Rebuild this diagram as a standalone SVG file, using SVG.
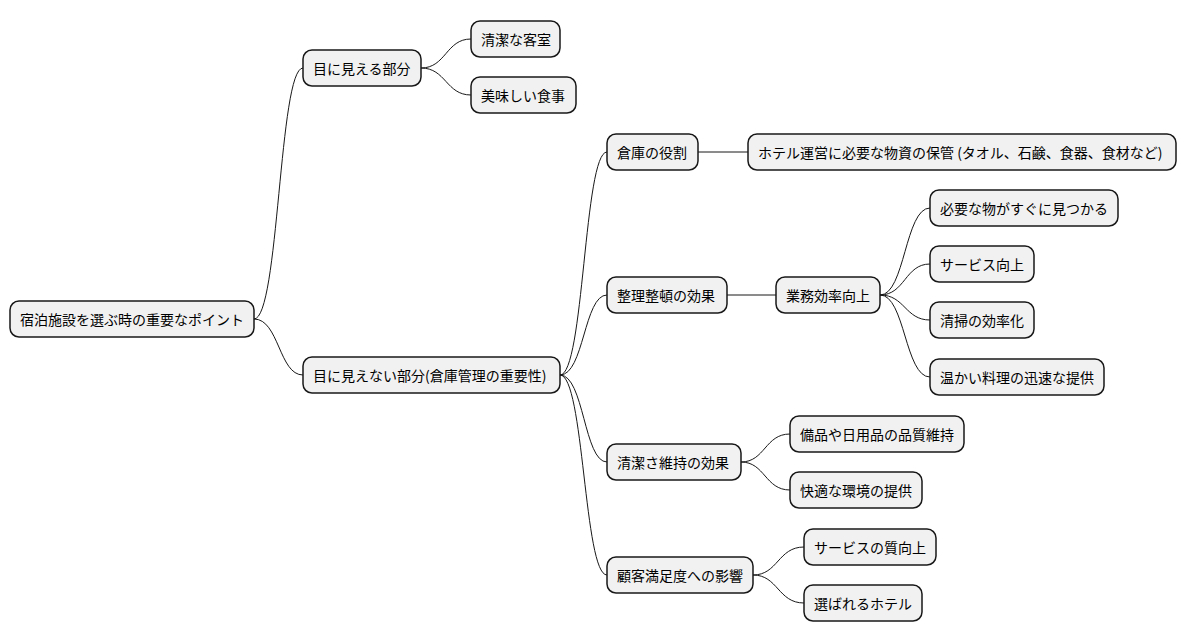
<svg xmlns="http://www.w3.org/2000/svg" width="1187" height="640" viewBox="0 0 1187 640">
<style>
.n rect{fill:#F1F1F1;stroke:#181818;stroke-width:1.5}
.n text{font-family:"Noto Sans CJK JP","Noto Sans",sans-serif;font-size:14px;fill:#000;dominant-baseline:central}
.c path{fill:none;stroke:#181818;stroke-width:1}
</style>
<rect width="1187" height="640" fill="#fff"/>
<g class="c">
<path d="M254 319 C279 319 279 68 303 68"/>
<path d="M254 319 C279 319 279 375 303 375"/>
<path d="M421 68 C446 68 446 39 471 39"/>
<path d="M421 68 C446 68 446 95 471 95"/>
<path d="M560 375 C584 375 584 152 607 152"/>
<path d="M560 375 C584 375 584 295 607 295"/>
<path d="M560 375 C584 375 584 462 607 462"/>
<path d="M560 375 C584 375 584 575 607 575"/>
<path d="M698 152 L748 152"/>
<path d="M727 295 L776 295"/>
<path d="M880 295 C905 295 905 208 930 208"/>
<path d="M880 295 C905 295 905 264 930 264"/>
<path d="M880 295 C905 295 905 320 930 320"/>
<path d="M880 295 C905 295 905 377 930 377"/>
<path d="M741 462 C765 462 765 434 790 434"/>
<path d="M741 462 C765 462 765 490 790 490"/>
<path d="M753 575 C778 575 778 547 804 547"/>
<path d="M753 575 C778 575 778 603 804 603"/>
</g>
<g id="root" class="n"><rect x="10" y="301" width="244" height="36" rx="9"/><text x="20" y="319">宿泊施設を選ぶ時の重要なポイント</text></g>
<g id="visible" class="n"><rect x="303" y="50" width="118" height="36" rx="9"/><text x="313" y="68">目に見える部分</text></g>
<g id="room" class="n"><rect x="471" y="21" width="89" height="36" rx="9"/><text x="481" y="39">清潔な客室</text></g>
<g id="meal" class="n"><rect x="471" y="77" width="105" height="36" rx="9"/><text x="481" y="95">美味しい食事</text></g>
<g id="invisible" class="n"><rect x="303" y="357" width="257" height="36" rx="9"/><text x="313" y="375">目に見えない部分(倉庫管理の重要性)</text></g>
<g id="role" class="n"><rect x="607" y="134" width="91" height="36" rx="9"/><text x="617" y="152">倉庫の役割</text></g>
<g id="storage" class="n"><rect x="748" y="134" width="428" height="36" rx="9"/><text x="758" y="152">ホテル運営に必要な物資の保管 (タオル、石鹸、食器、食材など)</text></g>
<g id="order" class="n"><rect x="607" y="277" width="120" height="36" rx="9"/><text x="617" y="295">整理整頓の効果</text></g>
<g id="eff" class="n"><rect x="776" y="277" width="104" height="36" rx="9"/><text x="786" y="295">業務効率向上</text></g>
<g id="find" class="n"><rect x="930" y="190" width="188" height="36" rx="9"/><text x="940" y="208">必要な物がすぐに見つかる</text></g>
<g id="svc" class="n"><rect x="930" y="246" width="104" height="36" rx="9"/><text x="940" y="264">サービス向上</text></g>
<g id="clean" class="n"><rect x="930" y="302" width="104" height="36" rx="9"/><text x="940" y="320">清掃の効率化</text></g>
<g id="warm" class="n"><rect x="930" y="359" width="174" height="36" rx="9"/><text x="940" y="377">温かい料理の迅速な提供</text></g>
<g id="cleanliness" class="n"><rect x="607" y="444" width="134" height="36" rx="9"/><text x="617" y="462">清潔さ維持の効果</text></g>
<g id="quality" class="n"><rect x="790" y="416" width="174" height="36" rx="9"/><text x="800" y="434">備品や日用品の品質維持</text></g>
<g id="comfort" class="n"><rect x="790" y="472" width="132" height="36" rx="9"/><text x="800" y="490">快適な環境の提供</text></g>
<g id="satisfaction" class="n"><rect x="607" y="557" width="146" height="36" rx="9"/><text x="617" y="575">顧客満足度への影響</text></g>
<g id="svcq" class="n"><rect x="804" y="529" width="132" height="36" rx="9"/><text x="814" y="547">サービスの質向上</text></g>
<g id="chosen" class="n"><rect x="804" y="585" width="118" height="36" rx="9"/><text x="814" y="603">選ばれるホテル</text></g>
</svg>
